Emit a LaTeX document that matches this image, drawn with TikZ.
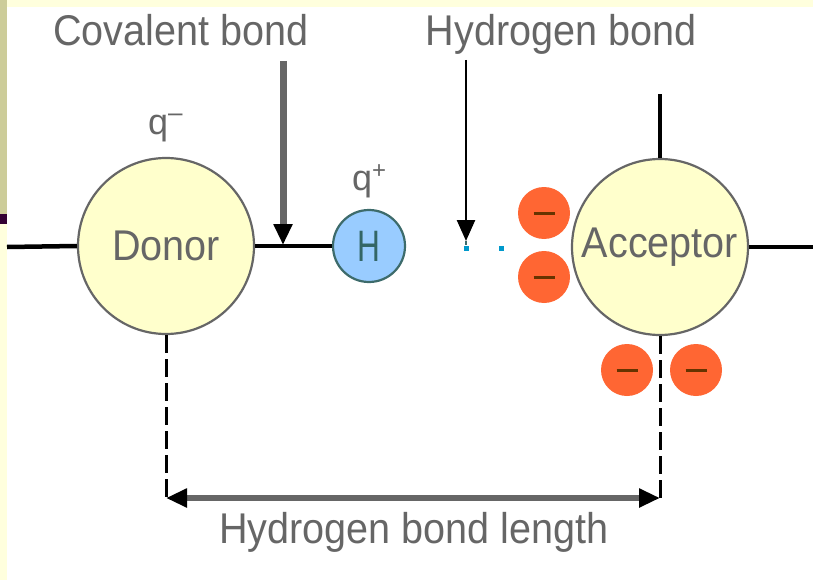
\documentclass[tikz,border=0pt]{standalone}
\usepackage{fontspec}
\setmainfont{Liberation Sans}
\usetikzlibrary{arrows.meta}
\definecolor{txtgray}{HTML}{666666}
\definecolor{topstrip}{HTML}{FFFFDD}
\definecolor{khakistrip}{HTML}{CCCC99}
\definecolor{darkstrip}{HTML}{330033}
\definecolor{atomfill}{HTML}{FFFFCC}
\definecolor{hfill}{HTML}{99CCFF}
\definecolor{hedge}{HTML}{3D6B6B}
\definecolor{htext}{HTML}{336666}
\definecolor{redfill}{HTML}{FF6633}
\definecolor{minusc}{HTML}{663300}
\definecolor{dotc}{HTML}{0099CC}
\newcommand\mylbl[1]{\scalebox{0.92}[1]{\fontsize{43}{48}\selectfont #1}}
\tikzset{
  atom/.style={circle, draw=txtgray, line width=2.2pt, fill=atomfill, inner sep=0pt, minimum size=176pt, text=txtgray},
  hatom/.style={circle, draw=hedge, line width=2.2pt, fill=hfill, inner sep=0pt, minimum size=72pt, text=htext},
  lonepair/.style={circle, fill=redfill, draw=none, inner sep=0pt, minimum size=52pt},
  bondline/.style={line width=4.5pt, black},
  lbl/.style={anchor=base, inner sep=0pt, text=txtgray},
  hdot/.style={fill=dotc, draw=none, inner sep=0pt, minimum size=5pt},
  dimdash/.style={line width=3pt, black, dash pattern=on 18pt off 6pt},
  bigtip/.tip={Triangle[length=21pt,width=18pt,color=black]}
}
\newcommand\minusbar{\textcolor{minusc}{\rule[-1.5pt]{21pt}{3pt}}}
\begin{document}
\begin{tikzpicture}[x=1pt,y=-1pt]
\useasboundingbox (0,0) rectangle (813,580);
\fill[white] (0,0) rectangle (813,580);
\fill[topstrip] (0,0) rectangle (813,7);
\fill[khakistrip] (0,0) rectangle (7,214);
\fill[darkstrip] (0,214) rectangle (7,224);
\fill[topstrip] (0,224) rectangle (7,580);

% atoms
\node[atom] (donor) at (166,246) {\mylbl{Donor}};
\node[atom] (acceptor) at (660,247) {\mylbl{Acceptor}};
\node[hatom] (h) at (369,246) {\scalebox{0.72}[1]{\fontsize{44}{48}\selectfont H}};

% lone pairs
\node[lonepair] (lp1) at (544,213) {\minusbar};
\node[lonepair] (lp2) at (544,277) {\minusbar};
\node[lonepair] (lp3) at (627,370) {\minusbar};
\node[lonepair] (lp4) at (696,370) {\minusbar};

% coordinates
\coordinate (leftend) at (7,247);
\coordinate (rightend) at (813,247);
\coordinate (acctop) at (660,94);
\coordinate (cvtop) at (283,61);
\coordinate (cvtip) at (283,245);
\coordinate (hbtop) at (466,60);
\coordinate (hbtip) at (466,241);
\coordinate (dimL) at (166,498);
\coordinate (dimR) at (660,498);

% bonds
\draw[bondline] (leftend) -- (donor.west);
\draw[bondline] (donor.east) -- (h.west);
\draw[bondline] (acceptor.east) -- (rightend);
\draw[bondline] (acceptor.north) -- (acctop);

% hydrogen bond dots
\node[hdot] (d1) at (466,248) {};
\node[hdot] (d2) at (501,248) {};

% label arrows
\draw[line width=7pt, txtgray, -{bigtip}] (cvtop) -- (cvtip);
\draw[line width=2.5pt, black, -{bigtip}] (hbtop) -- (hbtip);
\draw[line width=1.5pt, hedge] (hbtip) -- (d1);

% bond length dimension
\draw[dimdash] (donor.south) -- (dimL);
\draw[dimdash] (acceptor.south) -- (dimR);
\draw[line width=6pt, txtgray, {bigtip}-{bigtip}] (dimL) -- (dimR);

% labels
\node[lbl] (cvlabel) at (181,46) {\mylbl{Covalent bond}};
\node[lbl] (hblabel) at (561,46) {\mylbl{Hydrogen bond}};
\node[lbl] (lenlabel) at (414,543) {\mylbl{Hydrogen bond length}};
\node[lbl, anchor=base west] (qminus) at (148,135) {\fontsize{36}{40}\selectfont q\raisebox{13pt}{\fontsize{26}{26}\selectfont –}};
\node[lbl, anchor=base west] (qplus) at (352,190) {\fontsize{36}{40}\selectfont q\raisebox{12pt}{\fontsize{24}{24}\selectfont +}};
\end{tikzpicture}
\end{document}
